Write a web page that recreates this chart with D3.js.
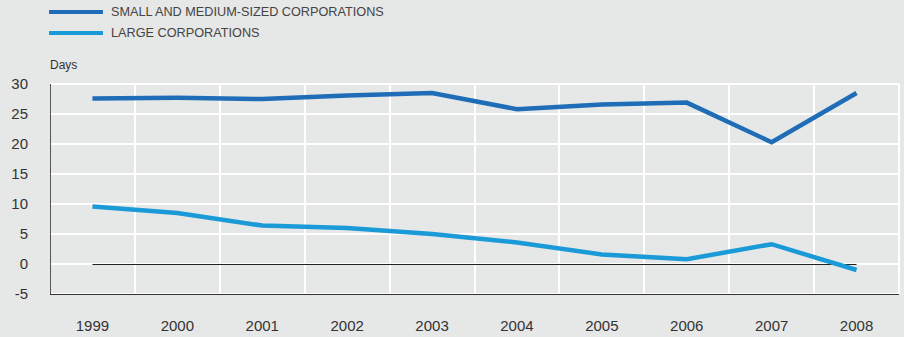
<!DOCTYPE html>
<html><head><meta charset="utf-8">
<script src="https://cdn.jsdelivr.net/npm/d3@7"></script>
<style>
html,body{margin:0;padding:0;background:#e6e7e7;}
svg{display:block;font-family:"Liberation Sans",Arial,Helvetica,sans-serif;}
</style></head>
<body><svg id="c" width="904" height="337"></svg>
<script>
const years = ["1999","2000","2001","2002","2003","2004","2005","2006","2007","2008"];
const smeValues = [27.6, 27.7, 27.5, 28.1, 28.5, 25.8, 26.6, 26.9, 20.3, 28.5];
const largeValues = [9.6, 8.5, 6.4, 6.0, 5.0, 3.6, 1.6, 0.8, 3.3, -1.0];
const yTicks = [-5, 0, 5, 10, 15, 20, 25, 30];
const seriesNames = ["SMALL AND MEDIUM-SIZED CORPORATIONS", "LARGE CORPORATIONS"];
const seriesColors = ["#1f6db7", "#1a9bd7"];

(function () {
const svg = d3.select("#c");
const pLeft = 50, pRight = 899, pTop = 84, pBottom = 294;

const x = d3.scaleBand().domain(years).range([pLeft, pRight]).padding(0);
const y = d3.scaleLinear().domain([-5, 30]).range([pBottom, pTop]);

svg.append("rect").attr("width", 904).attr("height", 337).attr("fill", "#e6e7e7");

// horizontal gridlines
svg.append("g").selectAll("line").data(yTicks).join("line")
  .attr("x1", pLeft).attr("x2", pRight)
  .attr("y1", d => y(d)).attr("y2", d => y(d))
  .attr("stroke", "#ffffff").attr("stroke-width", 2);

// vertical gridlines (band boundaries)
svg.append("g").selectAll("line").data(years).join("line")
  .attr("x1", d => Math.round(x(d) + x.bandwidth()))
  .attr("x2", d => Math.round(x(d) + x.bandwidth()))
  .attr("y1", pTop).attr("y2", pBottom)
  .attr("stroke", "#ffffff").attr("stroke-width", 2);

// axis lines
svg.append("line").attr("x1", pLeft + 0.5).attr("x2", pLeft + 0.5).attr("y1", pTop).attr("y2", pBottom)
  .attr("stroke", "#555").attr("stroke-width", 1);
svg.append("line").attr("x1", pLeft).attr("x2", pRight).attr("y1", pBottom + 0.5).attr("y2", pBottom + 0.5)
  .attr("stroke", "#333").attr("stroke-width", 1);

const cx = d => x(d) + x.bandwidth() / 2;
// zero line
svg.append("line").attr("x1", cx(years[0])).attr("x2", cx(years[years.length - 1]))
  .attr("y1", y(0) + 0.5).attr("y2", y(0) + 0.5).attr("stroke", "#222").attr("stroke-width", 1);

// y tick labels
svg.append("g").selectAll("text").data(yTicks).join("text")
  .attr("x", 28).attr("y", d => y(d)).attr("dy", "0.35em")
  .attr("text-anchor", "end").attr("font-size", 15).attr("fill", "#333")
  .text(d => d);

// x tick labels
svg.append("g").selectAll("text").data(years).join("text")
  .attr("x", d => cx(d)).attr("y", 331)
  .attr("text-anchor", "middle").attr("font-size", 15).attr("fill", "#333")
  .text(d => d);

svg.append("text").attr("x", 50).attr("y", 69).attr("font-size", 12).attr("fill", "#333").text("Days");

const line = d3.line().x((d, i) => cx(years[i])).y(d => y(d));
[smeValues, largeValues].forEach((vals, k) => {
  svg.append("path").datum(vals).attr("d", line)
    .attr("fill", "none").attr("stroke", seriesColors[k]).attr("stroke-width", 4.5)
    .attr("stroke-linejoin", "miter");
});

seriesNames.forEach((name, k) => {
  const ly = 12 + k * 21;
  svg.append("line").attr("x1", 49).attr("x2", 103).attr("y1", ly).attr("y2", ly)
    .attr("stroke", seriesColors[k]).attr("stroke-width", 4);
  svg.append("text").attr("x", 111).attr("y", ly).attr("dy", "0.35em")
    .attr("font-size", 12.7).attr("fill", "#444").text(name);
});
})();
</script></body></html>
